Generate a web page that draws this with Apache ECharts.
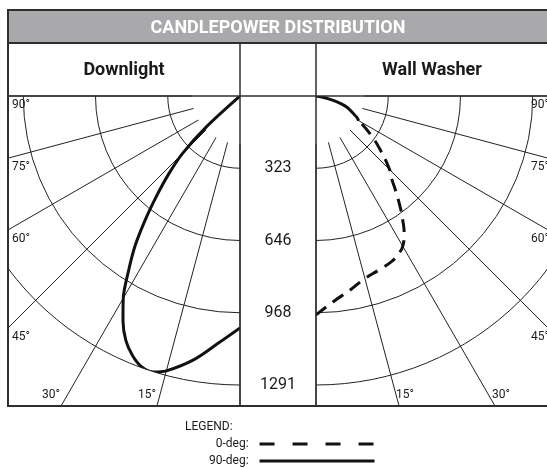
<!DOCTYPE html>
<html>
<head>
<meta charset="utf-8">
<script src="https://cdn.jsdelivr.net/npm/echarts@6/dist/echarts.min.js"></script>
<style>
html,body{margin:0;padding:0;background:#fff;}
#main{width:547px;height:468px;}
</style>
</head>
<body>
<div id="main"></div>
<script>
//角度 0 = 正下方, 90 = 水平
var downAngle=[0,5,10,15,17.5,20,22.5,25,27.5,30,32.5,35,37.5,40,42.5,45,47.5,50];
var down90=[1036,1108,1197,1271,1293,1287,1255,1206,1132,1043,927,817,692,574,469,364,201,0];
var washAngle0=[0,5,10,15,20,25,27.5,30,32.5,35,37.5,40,42.5,45,50,55,60];
var wash0=[978,920,880,844,826,811,796,775,733,675,614,554,500,465,375,295,220];
var washAngle90=[60,62.5,65,67.5,70,72.5,75,77.5,80,82.5];
var wash90=[220,205,183,165,147,121,89,54,22,0];
var ringLabels=['323','646','968','1291'];
var angleLabels=[90,75,60,45,30,15];
var cdMax=1291;

var FONT='Roboto';
var INK='#1a1a1a';
var panel={left:8,right:548,top:96,bottom:406};
var leftC=[240,96],rightC=[316,96];

function pairs(vals,angs){
	var out=[];
	for(var i=0;i<vals.length;i++){out.push([vals[i],angs[i]]);}
	return out;
}

function angleAx(idx,right,lines){
	return {
		polarIndex:idx,type:'value',min:0,max:90,interval:15,
		startAngle:270,endAngle:right?360:180,clockwise:!right,
		axisLine:{show:false},axisTick:{show:false},axisLabel:{show:false},
		splitLine:{show:lines,lineStyle:{color:'#222',width:1}}
	};
}
function radiusAx(idx,labels){
	return {
		polarIndex:idx,type:'value',min:0,max:cdMax,interval:cdMax/4,
		axisLine:{show:false},axisTick:{show:false},
		axisLabel:{
			show:labels,margin:38,align:'center',verticalAlign:'middle',
			fontFamily:FONT,fontSize:16,color:INK,showMinLabel:false,
			formatter:function(v,i){return ringLabels[i-1]||'';}
		},
		splitLine:{show:true,lineStyle:{color:'#222',width:1}}
	};
}

//角度标注
function angleText(cx,dir){
	var out=[];
	var w=dir<0?cx-panel.left:panel.right-cx;
	var h=panel.bottom-panel.top;
	angleLabels.forEach(function(a){
		var t=Math.tan(a*Math.PI/180);
		var x,y,align,va;
		if(t*h>w){
			y=panel.top+w/t+3;
			x=dir<0?panel.left+4:panel.right-17;
			align='left';va='top';
		}else{
			x=cx+dir*h*t+(dir<0?-1:-3);
			y=395;
			align=dir<0?'right':'left';va='middle';
		}
		out.push({type:'text',z:20,x:x,y:y,style:{text:a+'°',fill:INK,font:'12px '+FONT,textAlign:align,textVerticalAlign:va}});
	});
	return out;
}

function hline(y,w){return {type:'line',z:15,shape:{x1:panel.left,y1:y,x2:panel.right,y2:y},style:{stroke:'#2e2e2e',lineWidth:w}};}
function vline(x,y1,y2){return {type:'line',z:15,shape:{x1:x,y1:y1,x2:x,y2:y2},style:{stroke:'#2e2e2e',lineWidth:1.5}};}

var graphics=[
	//遮住面板外的网格线
	{type:'rect',z:10,shape:{x:0,y:44,width:7,height:424},style:{fill:'#fff'}},
	{type:'rect',z:10,shape:{x:0,y:407,width:547,height:61},style:{fill:'#fff'}},
	{type:'rect',z:12,shape:{x:panel.left,y:10,width:540,height:33},style:{fill:'#a9a8aa'}},
	{type:'rect',z:15,shape:{x:panel.left,y:10,width:540,height:396},style:{fill:null,stroke:'#2e2e2e',lineWidth:2}},
	hline(43,2),
	hline(96,1.5),
	vline(240,43,406),
	vline(316,43,406)
].concat(angleText(leftC[0],-1),angleText(rightC[0],1));

var myChart=echarts.init(document.getElementById('main'));
var option={
	animation:false,
	title:[
		{text:'CANDLEPOWER DISTRIBUTION',left:278,top:28,textAlign:'center',textVerticalAlign:'middle',padding:0,z:20,
			textStyle:{color:'#fff',fontSize:18,fontWeight:'bold',fontFamily:FONT}},
		{text:'Downlight',left:124,top:70,textAlign:'center',textVerticalAlign:'middle',padding:0,z:20,
			textStyle:{color:INK,fontSize:18,fontWeight:'bold',fontFamily:FONT}},
		{text:'Wall Washer',left:432,top:70,textAlign:'center',textVerticalAlign:'middle',padding:0,z:20,
			textStyle:{color:INK,fontSize:18,fontWeight:'bold',fontFamily:FONT}},
		{text:'LEGEND:',left:185,top:427,textVerticalAlign:'middle',padding:0,z:20,
			textStyle:{color:INK,fontSize:12,fontWeight:'normal',fontFamily:FONT}}
	],
	legend:{
		orient:'vertical',left:209,top:438,align:'right',padding:0,z:20,
		itemWidth:115,itemHeight:12,itemGap:5,selectedMode:false,
		textStyle:{fontFamily:FONT,fontSize:12,color:INK},
		formatter:function(n){return n+':  ';},
		itemStyle:{opacity:0},
		lineStyle:{width:3},
		data:[
			{name:'0-deg',lineStyle:{type:[15,18],width:3}},
			{name:'90-deg',lineStyle:{width:3}}
		]
	},
	polar:[
		{center:leftC,radius:[0,289]},
		{center:rightC,radius:[0,289]},
		{center:leftC,radius:[48,430]},
		{center:rightC,radius:[48,430]}
	],
	angleAxis:[angleAx(0,false,false),angleAx(1,true,false),angleAx(2,false,true),angleAx(3,true,true)],
	radiusAxis:[radiusAx(0,true),radiusAx(1,false),
		{polarIndex:2,show:false,min:0,max:1},{polarIndex:3,show:false,min:0,max:1}],
	graphic:graphics,
	series:[
		{name:'90-deg',type:'line',coordinateSystem:'polar',polarIndex:0,symbol:'none',smooth:0.3,
			lineStyle:{color:'#111',width:3},itemStyle:{color:'#111'},data:pairs(down90,downAngle)},
		{name:'0-deg',type:'line',coordinateSystem:'polar',polarIndex:1,symbol:'none',smooth:0.5,
			lineStyle:{color:'#111',width:3,type:[13,8]},itemStyle:{color:'#111'},data:pairs(wash0,washAngle0)},
		{name:'90-deg',type:'line',coordinateSystem:'polar',polarIndex:1,symbol:'none',smooth:0.3,
			lineStyle:{color:'#111',width:3},itemStyle:{color:'#111'},data:pairs(wash90,washAngle90)}
	]
};
myChart.setOption(option);
</script>
</body>
</html>
